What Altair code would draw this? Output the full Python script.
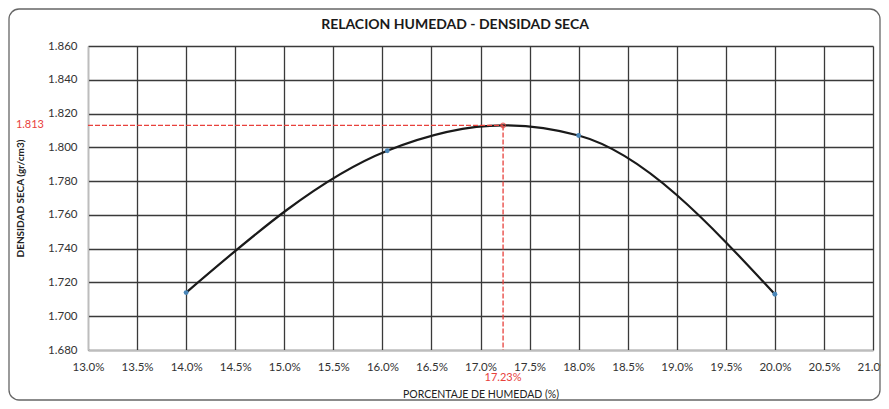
import altair as alt
import pandas as pd

# measured points (moisture %, dry density g/cm3)
moisture = [14.0, 16.05, 18.0, 20.0]
density = [1.714, 1.798, 1.807, 1.713]
# optimum
opt_moisture = [17.23]
max_density = [1.813]

x_ticks = [13.0, 13.5, 14.0, 14.5, 15.0, 15.5, 16.0, 16.5, 17.0, 17.5,
           18.0, 18.5, 19.0, 19.5, 20.0, 20.5, 21.0]
y_ticks = [1.680, 1.700, 1.720, 1.740, 1.760, 1.780, 1.800, 1.820, 1.840, 1.860]
title_text = "RELACION HUMEDAD - DENSIDAD SECA"

W, H = 785, 304
FONT = "Lato"

pts = pd.DataFrame({"m": moisture, "d": density})
curve = pd.DataFrame({"m": moisture + opt_moisture, "d": density + max_density}).sort_values("m")
opt = pd.DataFrame({"m": opt_moisture, "d": max_density,
                    "m0": [x_ticks[0]], "d0": [y_ticks[0]],
                    "dl": [f"{v:.3f}" for v in max_density],
                    "ml": [f"{v:.2f}%" for v in opt_moisture]})

xs = alt.Scale(domain=[13.0, 21.0], nice=False, zero=False)
ys = alt.Scale(domain=[1.68, 1.86], nice=False, zero=False)

xaxis = alt.Axis(values=x_ticks, labelExpr="format(datum.value, '.1f') + '%'",
                 title="PORCENTAJE DE HUMEDAD  (%)", grid=True, ticks=False,
                 labelOverlap=False, labelFlush=False,
                 labelPadding=11, titlePadding=17, labelFontSize=11.5, titleFontSize=10.5,
                 labelFont=FONT, titleFont=FONT, titleFontWeight="normal",
                 labelColor="#333", titleColor="#222")
yaxis = alt.Axis(values=y_ticks, format=".3f", title="DENSIDAD SECA (gr/cm3)",
                 grid=True, ticks=False, labelOverlap=False, labelFlush=False,
                 labelPadding=11, titlePadding=22,
                 labelFontSize=11.5, titleFontSize=10, labelFont=FONT, titleFont=FONT,
                 titleFontWeight="bold", labelColor="#333", titleColor="#222")


def X(f):
    return alt.X(f, scale=xs, axis=xaxis)


def Y(f):
    return alt.Y(f, scale=ys, axis=yaxis)


line = alt.Chart(curve).mark_line(interpolate="monotone", color="#1a1a1a", strokeWidth=2.2).encode(
    x=X("m:Q"), y=Y("d:Q"))

frame = alt.Chart(pd.DataFrame({"a": [0]})).mark_rect(
    fillOpacity=0, stroke="#666", strokeWidth=1.3, cornerRadius=10
).encode(x=alt.value(-79), x2=alt.value(792), y=alt.value(-37), y2=alt.value(354))

heading = alt.Chart(pd.DataFrame({"t": [title_text]})).mark_text(
    font=FONT, fontSize=14, fontWeight="bold", color="#1a1a1a", align="center", baseline="middle"
).encode(x=alt.value(367), y=alt.value(-21), text="t:N")

hrule = alt.Chart(opt).mark_rule(color="#e8413c", strokeDash=[5, 2], strokeWidth=1.3).encode(
    x=X("m0:Q"), x2="m:Q", y=Y("d:Q"))
vrule = alt.Chart(opt).mark_rule(color="#e8413c", strokeDash=[5, 2], strokeWidth=1.3).encode(
    x=X("m:Q"), y=Y("d:Q"), y2="d0:Q")

points = alt.Chart(pts).mark_point(filled=True, size=24, color="#4a86b8", opacity=1).encode(
    x=X("m:Q"), y=Y("d:Q"))
peak = alt.Chart(opt).mark_point(filled=False, size=22, color="#e8413c", strokeWidth=1.2).encode(
    x=X("m:Q"), y=Y("d:Q"))

dlabel = alt.Chart(opt).mark_text(align="right", baseline="middle", color="#e8413c",
                                  fontSize=11, font=FONT, dx=-44).encode(
    x=X("m0:Q"), y=Y("d:Q"), text="dl:N")
mlabel = alt.Chart(opt).mark_text(align="center", baseline="middle", color="#e8413c",
                                  fontSize=11, font=FONT, dy=28).encode(
    x=X("m:Q"), y=Y("d0:Q"), text="ml:N")

chart = alt.layer(line, frame, heading, hrule, vrule, points, peak, dlabel, mlabel).properties(
    width=W, height=H, background="white",
    autosize=alt.AutoSizeParams(type="none"),
    padding={"left": 80, "top": 38, "right": 8, "bottom": 51},
).configure_view(stroke=None).configure_axis(
    gridColor="#3a3a3a", gridWidth=1.3, domainColor="#bdbdbd", domainWidth=1.2
)

chart.save("out.html", embed_options={"renderer": "svg", "actions": False})
